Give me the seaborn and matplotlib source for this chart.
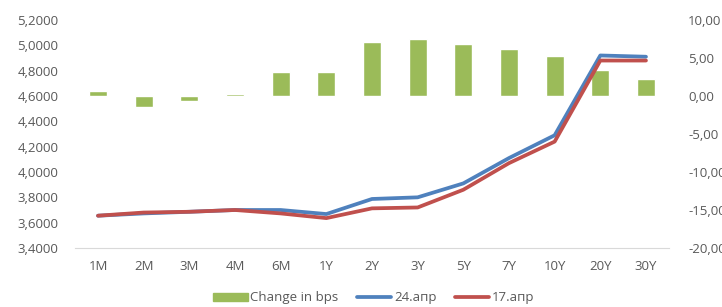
#%% import libraries
import pandas as pd
import seaborn as sns
import matplotlib
matplotlib.use('Agg')
import matplotlib.pyplot as plt
from matplotlib.ticker import FuncFormatter, MultipleLocator
from matplotlib.patches import Patch
from matplotlib.lines import Line2D

#%% data
tenors = ['1M', '2M', '3M', '4M', '6M', '1Y', '2Y', '3Y', '5Y', '7Y', '10Y', '20Y', '30Y']
change_bps = [0.6, -1.5, -0.6, 0.3, 3.2, 3.15, 7.1, 7.45, 6.9, 6.2, 5.2, 3.4, 2.3]
yield_24apr = [3.655, 3.673, 3.686, 3.700, 3.700, 3.668, 3.787, 3.800, 3.910, 4.110, 4.290, 4.920, 4.910]
yield_17apr = [3.655, 3.680, 3.686, 3.700, 3.673, 3.636, 3.713, 3.720, 3.860, 4.070, 4.240, 4.880, 4.880]

#%% plot setup
sns.set_style("white")
plt.rcParams['font.family'] = ['Open Sans', 'DejaVu Sans']
plt.rcParams['font.size'] = 9.5
text_color = '#595959'
colors = {'bars': '#9BBB59', '24.апр': '#4F81BD', '17.апр': '#C0504D'}

df = pd.DataFrame({
    'tenor': tenors * 2,
    'yield': yield_24apr + yield_17apr,
    'series': ['24.апр'] * len(tenors) + ['17.апр'] * len(tenors),
})

#%% plot
fig = plt.figure(figsize=(7.22, 3.07), dpi=100)
ax = fig.add_axes([75.2 / 722, 1 - 248 / 307, (668.8 - 75.2) / 722, 228 / 307])
ax2 = ax.twinx()

sns.barplot(x=tenors, y=change_bps, color=colors['bars'], width=0.4, saturation=1, ax=ax2)
sns.lineplot(data=df, x='tenor', y='yield', hue='series', palette=colors, linewidth=2.7,
             legend=False, ax=ax, sort=False)

# lines above bars
ax.set_zorder(ax2.get_zorder() + 1)
ax.patch.set_visible(False)

ax.set_xlim(-0.5, len(tenors) - 0.5)
ax.set_ylim(3.4, 5.2)
ax.yaxis.set_major_locator(MultipleLocator(0.2))
ax.yaxis.set_major_formatter(FuncFormatter(lambda v, p: f'{v:.4f}'.replace('.', ',')))
ax2.set_ylim(-20, 10)
ax2.yaxis.set_major_locator(MultipleLocator(5))
ax2.yaxis.set_major_formatter(FuncFormatter(lambda v, p: f'{v:.2f}'.replace('.', ',')))

for a in (ax, ax2):
    a.set_xlabel(None)
    a.set_ylabel(None)
    for s in a.spines.values():
        s.set_visible(False)
    a.tick_params(length=0, colors=text_color, labelsize=9.5)
ax.spines['bottom'].set_visible(True)
ax.spines['bottom'].set_color('#D9D9D9')
ax.tick_params(axis='y', pad=12)
ax.tick_params(axis='x', pad=9)
ax2.tick_params(axis='y', pad=14)

handles = [Patch(color=colors['bars'], label='Change in bps'),
           Line2D([], [], color=colors['24.апр'], lw=2.7, label='24.апр'),
           Line2D([], [], color=colors['17.апр'], lw=2.7, label='17.апр')]
leg = fig.legend(handles=handles, loc='center', bbox_to_anchor=(374 / 722, 1 - 298 / 307),
                 ncol=3, frameon=False, handlelength=2.6, handleheight=0.6,
                 columnspacing=1.4, handletextpad=0.2, fontsize=9.5)
for t in leg.get_texts():
    t.set_color(text_color)

plt.savefig('out.png', dpi=100)
